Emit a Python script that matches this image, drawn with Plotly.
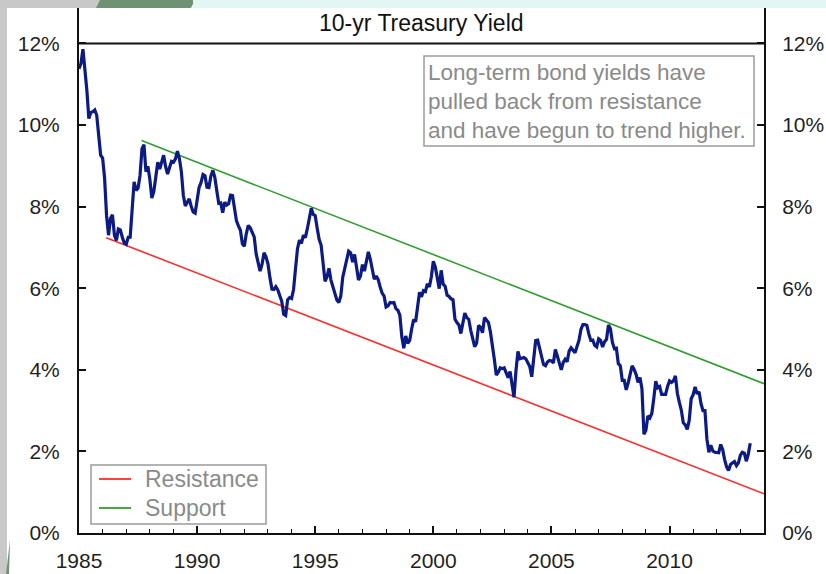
import plotly.graph_objects as go

# ---- data (monthly 10-yr Treasury yield, %) ----
start_year = 1985
yield_pct = [
    11.38, 11.51, 11.86, 11.43, 10.85, 10.16, 10.31, 10.33, 10.37, 10.24, 9.78, 9.26,   # 1985
    9.19, 8.70, 7.78, 7.30, 7.71, 7.80, 7.30, 7.17, 7.45, 7.43, 7.25, 7.11,            # 1986
    7.08, 7.25, 7.25, 8.02, 8.61, 8.40, 8.45, 8.76, 9.42, 9.52, 8.86, 8.99,            # 1987
    8.67, 8.21, 8.37, 8.72, 9.09, 8.92, 9.06, 9.26, 8.98, 8.80, 8.96, 9.11,            # 1988
    9.09, 9.17, 9.36, 9.18, 8.86, 8.28, 8.02, 8.11, 8.19, 8.01, 7.87, 7.84,            # 1989
    8.21, 8.47, 8.59, 8.79, 8.76, 8.48, 8.47, 8.75, 8.89, 8.72, 8.39, 8.08,            # 1990
    8.09, 7.85, 8.11, 8.04, 8.07, 8.28, 8.27, 7.90, 7.65, 7.53, 7.42, 7.09,            # 1991
    7.03, 7.34, 7.54, 7.48, 7.39, 7.26, 6.84, 6.59, 6.42, 6.59, 6.87, 6.77,            # 1992
    6.60, 6.26, 5.98, 5.97, 6.04, 5.96, 5.81, 5.68, 5.36, 5.33, 5.72, 5.77,            # 1993
    5.75, 5.97, 6.48, 6.97, 7.18, 7.10, 7.30, 7.24, 7.46, 7.74, 7.96, 7.81,            # 1994
    7.78, 7.47, 7.20, 7.06, 6.63, 6.17, 6.28, 6.49, 6.20, 6.04, 5.93, 5.71,            # 1995
    5.65, 5.81, 6.27, 6.51, 6.74, 6.91, 6.87, 6.64, 6.83, 6.53, 6.20, 6.30,            # 1996
    6.58, 6.42, 6.69, 6.89, 6.71, 6.49, 6.22, 6.30, 6.21, 6.03, 5.88, 5.81,            # 1997
    5.54, 5.57, 5.65, 5.64, 5.65, 5.50, 5.46, 5.34, 4.81, 4.53, 4.83, 4.65,            # 1998
    4.72, 5.00, 5.23, 5.18, 5.54, 5.90, 5.79, 5.94, 5.92, 6.11, 6.03, 6.28,            # 1999
    6.66, 6.52, 6.26, 5.99, 6.44, 6.10, 6.05, 5.83, 5.80, 5.74, 5.72, 5.24,            # 2000
    5.16, 5.10, 4.89, 5.14, 5.39, 5.28, 5.24, 4.97, 4.73, 4.57, 4.65, 5.09,            # 2001
    5.04, 4.91, 5.28, 5.21, 5.16, 4.93, 4.65, 4.26, 3.87, 3.94, 4.05, 4.03,            # 2002
    4.05, 3.90, 3.81, 3.96, 3.57, 3.33, 3.98, 4.45, 4.27, 4.29, 4.30, 4.27,            # 2003
    4.15, 4.08, 3.83, 4.35, 4.72, 4.73, 4.50, 4.28, 4.13, 4.10, 4.19, 4.23,            # 2004
    4.22, 4.17, 4.50, 4.34, 4.14, 4.00, 4.18, 4.26, 4.20, 4.46, 4.54, 4.47,            # 2005
    4.42, 4.57, 4.72, 4.99, 5.11, 5.11, 5.09, 4.88, 4.72, 4.73, 4.60, 4.56,            # 2006
    4.76, 4.72, 4.56, 4.69, 4.75, 5.10, 5.00, 4.67, 4.52, 4.53, 4.15, 4.10,            # 2007
    3.74, 3.74, 3.51, 3.68, 3.88, 4.10, 4.01, 3.89, 3.69, 3.81, 3.53, 2.42,            # 2008
    2.52, 2.87, 2.82, 2.93, 3.29, 3.72, 3.56, 3.59, 3.40, 3.39, 3.40, 3.59,            # 2009
    3.73, 3.69, 3.73, 3.85, 3.42, 3.20, 3.01, 2.70, 2.65, 2.54, 2.76, 3.29,            # 2010
    3.39, 3.58, 3.41, 3.46, 3.17, 3.00, 3.00, 2.30, 1.98, 2.15, 2.01, 1.98,            # 2011
    1.97, 1.97, 2.17, 2.05, 1.80, 1.62, 1.53, 1.68, 1.72, 1.75, 1.65, 1.72,            # 2012
    1.91, 1.98, 1.96, 1.76, 1.93, 2.20,                                                # 2013
]
dates = [start_year + i / 12 for i in range(len(yield_pct))]

resistance_x = [1986.15, 2014.0]
resistance_y = [7.24, 0.96]
support_x = [1987.65, 2014.0]
support_y = [9.62, 3.66]

x_ticks = [1985, 1990, 1995, 2000, 2005, 2010]
y_ticks = [0, 2, 4, 6, 8, 10, 12]
y_tick_labels = ["0%", "2%", "4%", "6%", "8%", "10%", "12%"]

series_names = ["Resistance", "Support"]
series_colors = ["#ff2b2b", "#2f9e2f"]

title_text = "10-yr Treasury Yield"
note_lines = ["Long-term bond yields have", "pulled back from resistance",
              "and have begun to trend higher."]

# ---- layout geometry (pixels) ----
W, H = 826, 574
L, R, T, B = 79, 764, 8, 533


def px(xp):
    return (xp - L) / (R - L)


def py(yp):
    return (B - yp) / (B - T)


FONT = "Arial, Liberation Sans, sans-serif"
YMAX = 12.87
TICK_FONT = dict(family=FONT, size=21, color="#1f1f1f")

fig = go.Figure()
fig.add_trace(go.Scatter(x=resistance_x, y=resistance_y, mode="lines", name=series_names[0],
                         line=dict(color=series_colors[0], width=1.6), showlegend=False))
fig.add_trace(go.Scatter(x=support_x, y=support_y, mode="lines", name=series_names[1],
                         line=dict(color=series_colors[1], width=1.6), showlegend=False))
fig.add_trace(go.Scatter(x=dates, y=yield_pct, mode="lines", name="10-yr yield",
                         line=dict(color="#0c1a84", width=3.2), showlegend=False))
fig.add_trace(go.Scatter(x=[1985], y=[0], yaxis="y2", mode="markers",
                         marker=dict(opacity=0), showlegend=False, hoverinfo="skip"))

shapes = [
    # decorative page strips
    dict(type="rect", xref="paper", yref="paper", x0=px(0), x1=px(7), y0=py(574), y1=py(0),
         fillcolor="#c9c9c9", line=dict(width=0), layer="below"),
    dict(type="rect", xref="paper", yref="paper", x0=px(0), x1=px(100), y0=py(8), y1=py(0),
         fillcolor="#c8c8c8", line=dict(width=0), layer="below"),
    dict(type="path", xref="paper", yref="paper",
         path=f"M {px(96)} {py(8)} L {px(100)} {py(0)} L {px(195)} {py(0)} L {px(191)} {py(8)} Z",
         fillcolor="#6f9174", line=dict(width=0), layer="below"),
    dict(type="rect", xref="paper", yref="paper", x0=px(193), x1=px(826), y0=py(8), y1=py(0),
         fillcolor="#e2f7f3", line=dict(width=0), layer="below"),
    dict(type="path", xref="paper", yref="paper",
         path=f"M {px(6)} {py(574)} L {px(10)} {py(540)} L {px(9)} {py(574)} Z",
         fillcolor="#6f9174", line=dict(width=0), layer="below"),
    # 12% line under title
    dict(type="line", xref="paper", yref="y", x0=0, x1=1, y0=12, y1=12,
         line=dict(color="#111111", width=2)),
    # note box
    dict(type="rect", xref="paper", yref="paper", x0=px(424), x1=px(754), y0=py(146), y1=py(56),
         line=dict(color="#9a9a9a", width=1.5), fillcolor="rgba(0,0,0,0)"),
    # legend box
    dict(type="rect", xref="paper", yref="paper", x0=px(91), x1=px(266), y0=py(524), y1=py(465),
         line=dict(color="#9a9a9a", width=1.5), fillcolor="white"),
]

annotations = [
    dict(text=title_text, xref="paper", yref="paper", x=px(421), y=py(23),
         xanchor="center", yanchor="middle", showarrow=False,
         font=dict(family=FONT, size=23, color="#111111")),
]
for i, line in enumerate(note_lines):
    annotations.append(dict(text=line, xref="paper", yref="paper", x=px(426), y=py(72 + 29 * i),
                            xanchor="left", yanchor="middle", showarrow=False,
                            font=dict(family=FONT, size=22.5, color="#8a8a8a")))

# legend entries (drawn as line samples + text)
for i, (name, col) in enumerate(zip(series_names, series_colors)):
    yy = 479 + 29 * i
    shapes.append(dict(type="line", xref="paper", yref="paper", x0=px(99), x1=px(131),
                       y0=py(yy), y1=py(yy), line=dict(color=col, width=1.8)))
    annotations.append(dict(text=name, xref="paper", yref="paper", x=px(143), y=py(yy),
                            xanchor="left", yanchor="middle", showarrow=False,
                            font=dict(family=FONT, size=23, color="#8a8a8a")))

fig.update_layout(
    width=W, height=H,
    margin=dict(l=L, r=W - R, t=T, b=H - B, pad=0),
    paper_bgcolor="white", plot_bgcolor="white",
    font=dict(family=FONT, size=21, color="#1f1f1f"),
    shapes=shapes, annotations=annotations,
    xaxis=dict(range=[1985, 2014], tickmode="linear", tick0=1985, dtick=5,
               ticks="inside", ticklen=7, tickwidth=1.5, automargin=False,
               tickcolor="#111", showline=True, linecolor="#111", linewidth=2, showgrid=False,
               zeroline=False, tickfont=TICK_FONT, ticklabelstandoff=8,
               minor=dict(tickmode="linear", tick0=1985, dtick=1, ticks="inside", ticklen=4,
                          tickcolor="#111", tickwidth=1.2, showgrid=False)),
    yaxis=dict(range=[0, YMAX], tickvals=y_ticks, ticktext=y_tick_labels, ticks="inside",
               ticklen=7, tickwidth=1.5, tickcolor="#111", showline=True, linecolor="#111",
               linewidth=2, showgrid=False, zeroline=False, ticklabelstandoff=13,
               tickfont=TICK_FONT, automargin=False),
    yaxis2=dict(range=[0, YMAX], tickvals=y_ticks, ticktext=y_tick_labels, overlaying="y",
                side="right", ticks="inside", ticklen=7, tickwidth=1.5, tickcolor="#111",
                showline=True, linecolor="#111", linewidth=2, showgrid=False, zeroline=False,
                ticklabelstandoff=12, tickfont=TICK_FONT, automargin=False),
    showlegend=False,
)

fig.write_html("out.html")
